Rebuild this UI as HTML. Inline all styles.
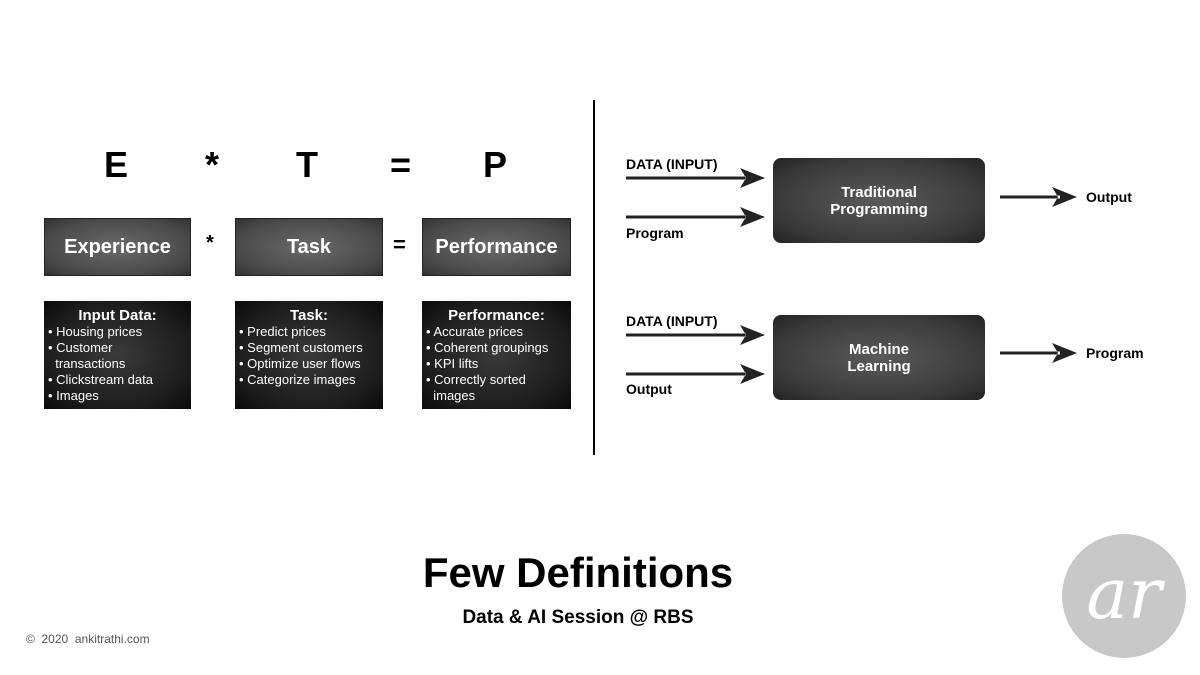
<!DOCTYPE html>
<html><head><meta charset="utf-8"><style>
body{margin:0;width:1200px;height:675px;background:#fff;position:relative;overflow:hidden;font-family:"Liberation Sans",sans-serif;}
.a{position:absolute;}
.hb{position:absolute;background:radial-gradient(ellipse at center,#6a6a6a 0%,#4a4a4a 70%,#333 100%);border:1px solid #222;color:#fff;font-weight:bold;font-size:20px;display:flex;align-items:center;justify-content:center;box-sizing:border-box;}
.lb{position:absolute;background:radial-gradient(ellipse at center,#3a3a3a 0%,#1c1c1c 70%,#0a0a0a 100%);color:#fff;font-size:13px;line-height:16px;box-sizing:border-box;padding:6px 4px;}
.lb .t{text-align:center;font-weight:bold;font-size:15px;line-height:17px;}
.big{position:absolute;font-size:36px;font-weight:bold;top:144px;}
.rb{position:absolute;left:773px;width:212px;height:85px;border-radius:8px;background:radial-gradient(ellipse at center,#5a5a5a 0%,#3a3a3a 70%,#222 100%);color:#fff;font-weight:bold;font-size:15px;line-height:17px;display:flex;align-items:center;justify-content:center;text-align:center;}
.lab{position:absolute;font-weight:bold;font-size:14px;}
</style></head><body>
<div class="big" style="left:104px">E</div>
<div class="big" style="left:205px">*</div>
<div class="big" style="left:296px">T</div>
<div class="big" style="left:390px">=</div>
<div class="big" style="left:483px">P</div>
<div class="hb" style="left:44px;top:218px;width:147px;height:58px">Experience</div>
<div class="a" style="left:206px;top:232px;font-size:20px;font-weight:bold">*</div>
<div class="hb" style="left:235px;top:218px;width:148px;height:58px">Task</div>
<div class="a" style="left:393px;top:232px;font-size:22px;font-weight:bold">=</div>
<div class="hb" style="left:422px;top:218px;width:149px;height:58px">Performance</div>
<div class="lb" style="left:44px;top:301px;width:147px;height:108px"><div class="t">Input Data:</div>• Housing prices<br>• Customer<br>&nbsp;&nbsp;transactions<br>• Clickstream data<br>• Images</div>
<div class="lb" style="left:235px;top:301px;width:148px;height:108px"><div class="t">Task:</div>• Predict prices<br>• Segment customers<br>• Optimize user flows<br>• Categorize images</div>
<div class="lb" style="left:422px;top:301px;width:149px;height:108px"><div class="t">Performance:</div>• Accurate prices<br>• Coherent groupings<br>• KPI lifts<br>• Correctly sorted<br>&nbsp;&nbsp;images</div>
<div class="a" style="left:593px;top:100px;width:2px;height:355px;background:#000"></div>
<svg class="a" style="left:0;top:0" width="1200" height="675">
<g fill="#222">
<path d="M626,176.5h120v3h-120z M765,178 L740,168 L746,178 L740,188Z"/>
<path d="M626,215.5h120v3h-120z M765,217 L740,207 L746,217 L740,227Z"/>
<path d="M1000,195.5h60v3h-60z M1077,197 L1052,187 L1058,197 L1052,207Z"/>
<path d="M626,333.5h120v3h-120z M765,335 L740,325 L746,335 L740,345Z"/>
<path d="M626,372.5h120v3h-120z M765,374 L740,364 L746,374 L740,384Z"/>
<path d="M1000,351.5h60v3h-60z M1077,353 L1052,343 L1058,353 L1052,363Z"/>
</g></svg>
<div class="lab" style="left:626px;top:156px">DATA (INPUT)</div>
<div class="lab" style="left:626px;top:225px">Program</div>
<div class="lab" style="left:1086px;top:189px">Output</div>
<div class="rb" style="top:158px">Traditional<br>Programming</div>
<div class="lab" style="left:626px;top:313px">DATA (INPUT)</div>
<div class="lab" style="left:626px;top:381px">Output</div>
<div class="lab" style="left:1086px;top:345px">Program</div>
<div class="rb" style="top:315px">Machine<br>Learning</div>
<div class="a" style="left:0;width:1156px;text-align:center;top:549px;font-size:42px;font-weight:bold">Few Definitions</div>
<div class="a" style="left:0;width:1156px;text-align:center;top:607px;font-size:19px;font-weight:bold">Data &amp; AI Session @ RBS</div>
<div class="a" style="left:26px;top:632px;font-size:12px;color:#555">©&nbsp; 2020&nbsp; ankitrathi.com</div>
<div class="a" style="left:1062px;top:534px;width:124px;height:124px;border-radius:50%;background:#c8c8c8;color:#fff;font-family:'DejaVu Serif',serif;font-style:italic;font-size:70px;line-height:120px;text-align:center">ar</div>
</body></html>
